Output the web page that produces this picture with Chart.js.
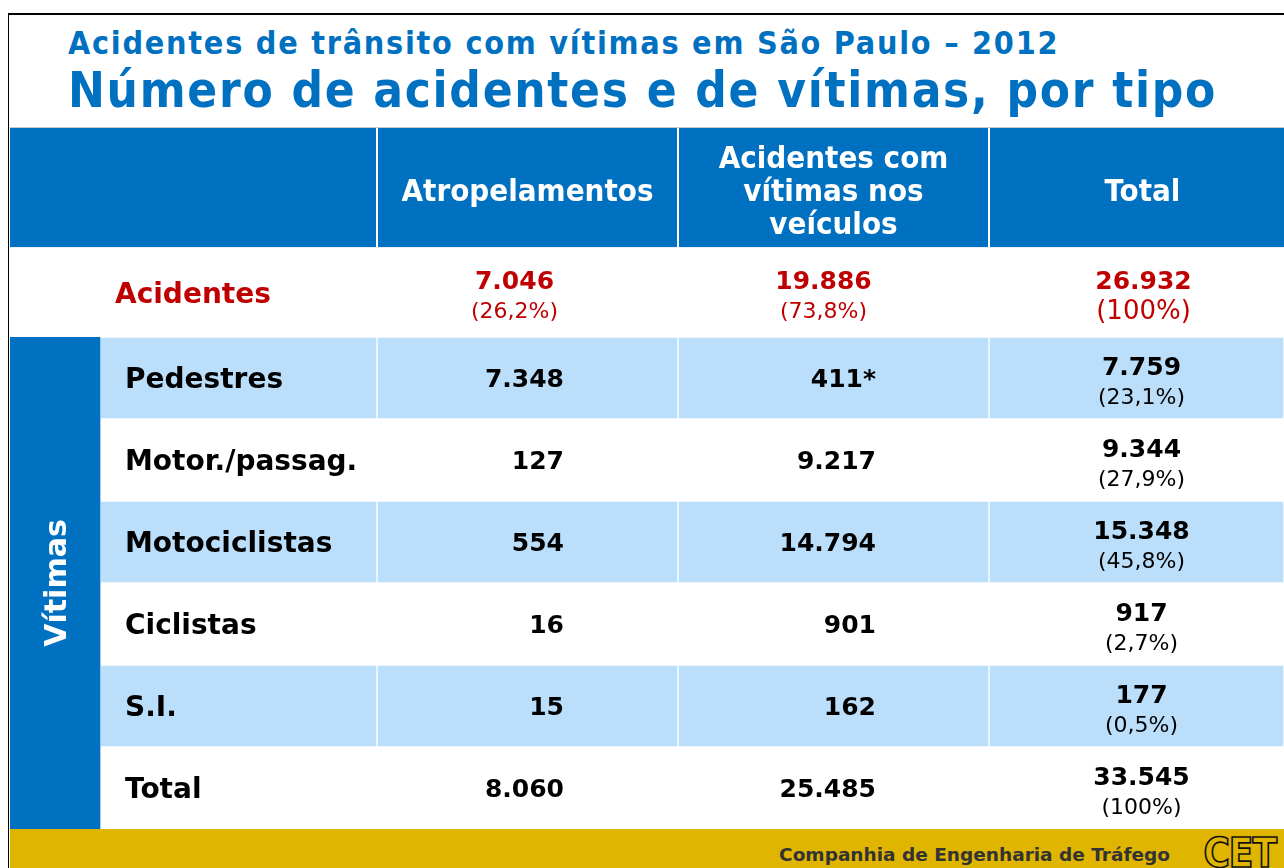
<!DOCTYPE html>
<html>
<head>
<meta charset="utf-8">
<script src="https://cdn.jsdelivr.net/npm/chart.js@4.4.0/dist/chart.umd.min.js"></script>
<style>
  body { margin: 0; width: 1284px; height: 868px; overflow: hidden; background: #fff; position: relative; font-family: "DejaVu Sans", sans-serif; }
  #frame { position: absolute; left: 8px; top: 13px; right: -2px; bottom: -2px; border-left: 1px solid #000; border-top: 2px solid #000; }
  .title { position: absolute; left: 68px; color: #0070C0; font-family: "DejaVu Sans Condensed", "DejaVu Sans", sans-serif; font-weight: bold; line-height: 1; white-space: nowrap; }
  #t1 { top: 27px; font-size: 32px; letter-spacing: 1.75px; }
  #t2 { top: 66px; font-size: 49px; letter-spacing: 1.7px; }
  #rule { position: absolute; left: 10px; right: 0; top: 127px; height: 1px; background: #c8c8c8; }
  #wrap { position: absolute; left: 10px; top: 128px; width: 1274px; height: 701px; }
  #footer { position: absolute; left: 10px; top: 829px; width: 1274px; height: 39px; background: #E0B500; }
  #footer .name { position: absolute; right: 114px; top: 17px; font-size: 18.5px; font-weight: bold; color: #333; line-height: 1; }
  #footer .logo { position: absolute; right: 8px; top: 4px; font-family: "DejaVu Sans Condensed", sans-serif; font-size: 40px; font-weight: bold; line-height: 1; color: transparent; -webkit-text-stroke: 1.6px #111; letter-spacing: -1px; }
</style>
</head>
<body>
<div id="frame"></div>
<div class="title" id="t1">Acidentes de trânsito com vítimas em São Paulo – 2012</div>
<div class="title" id="t2">Número de acidentes e de vítimas, por tipo</div>
<div id="rule"></div>
<div id="wrap"><canvas id="tabela" width="1274" height="701"></canvas></div>
<div id="footer"><span class="name">Companhia de Engenharia de Tráfego</span><span class="logo">CET</span></div>

<script>
// dados
const columnLabels = ['Atropelamentos', ['Acidentes com', 'vítimas nos', 'veículos'], 'Total'];
const accidents = [7046, 19886, 26932];
const accidentShares = [26.2, 73.8, 100];
const rowLabels = ['Pedestres', 'Motor./passag.', 'Motociclistas', 'Ciclistas', 'S.I.', 'Total'];
const atropelamentos = [7348, 127, 554, 16, 15, 8060];
const veiculos = [411, 9217, 14794, 901, 162, 25485];
const veiculosNotes = ['*', '', '', '', '', ''];
const totalVitimas = [7759, 9344, 15348, 917, 177, 33545];
const totalShares = [23.1, 27.9, 45.8, 2.7, 0.5, 100];

// layout
const colWidths = [90, 277, 301, 311, 295];
const headerH = 120;
const accRowH = 89;
const blue = '#0070C0';
const lightBlue = '#BBDFFB';
const red = '#C00000';

const edges = [0];
colWidths.forEach(w => edges.push(edges[edges.length - 1] + w));

function fmt(n) {
  return String(n).replace(/\B(?=(\d{3})+(?!\d))/g, '.');
}
function fmtPct(v) {
  return '(' + (v === 100 ? '100' : v.toFixed(1).replace('.', ',')) + '%)';
}

function text(ctx, str, x, y, size, weight, color, align, family) {
  ctx.font = weight + ' ' + size + 'px ' + (family || '"DejaVu Sans"');
  ctx.fillStyle = color;
  ctx.textAlign = align;
  ctx.textBaseline = 'alphabetic';
  ctx.fillText(str, x, y + size * 0.3645);
}

const tablePlugin = {
  id: 'tablePlugin',
  afterDatasetsDraw(chart) {
    const ctx = chart.ctx;
    const xs = chart.scales.x;
    const ys = chart.scales.y;
    const px = v => xs.getPixelForValue(v);
    ctx.save();

    // cabeçalho
    ctx.fillStyle = blue;
    ctx.fillRect(px(edges[0]), 0, px(edges[5]) - px(edges[0]), headerH);
    ctx.fillStyle = '#fff';
    for (let c = 2; c <= 4; c++) ctx.fillRect(px(edges[c]) - 1, 0, 2, headerH);
    ctx.fillStyle = '#e6f0fa';
    ctx.fillRect(px(edges[0]), headerH - 1, px(edges[5]), 1);
    const hMid = headerH / 2 + 2;
    columnLabels.forEach((lab, i) => {
      const cx = (px(edges[i + 2]) + px(edges[i + 3])) / 2 + (i === 2 ? 6 : 0);
      const lines = Array.isArray(lab) ? lab : [lab];
      lines.forEach((ln, k) => {
        text(ctx, ln, cx, hMid + (k - (lines.length - 1) / 2) * 33, 31, 'bold', '#fff', 'center', '"DejaVu Sans Condensed"');
      });
    });

    // linha de acidentes
    const aMid = headerH + accRowH / 2;
    text(ctx, 'Acidentes', px(edges[0]) + 105, aMid, 28, 'bold', red, 'left');
    const accShift = [-13, -10, 7];
    accidents.forEach((v, i) => {
      const cx = (px(edges[i + 2]) + px(edges[i + 3])) / 2 + accShift[i];
      text(ctx, fmt(v), cx, aMid - 13, 25, 'bold', red, 'center');
      text(ctx, fmtPct(accidentShares[i]), cx, aMid + 17, i === 2 ? 26 : 22, 'normal', red, 'center');
    });

    // vítimas
    rowLabels.forEach((lab, r) => {
      const cy = ys.getPixelForValue(r);
      text(ctx, lab, px(edges[1]) + 25, cy, 28, 'bold', '#000', 'left');
      text(ctx, fmt(atropelamentos[r]), px(edges[3]) - 114, cy, 25, 'bold', '#000', 'right');
      text(ctx, fmt(veiculos[r]) + veiculosNotes[r], px(edges[4]) - 113, cy, 25, 'bold', '#000', 'right');
      const tx = (px(edges[4]) + px(edges[5])) / 2 + 5;
      text(ctx, fmt(totalVitimas[r]), tx, cy - 12, 25, 'bold', '#000', 'center');
      text(ctx, fmtPct(totalShares[r]), tx, cy + 18, 22, 'normal', '#000', 'center');
    });

    // rótulo lateral
    const area = chart.chartArea;
    ctx.translate((px(edges[0]) + px(edges[1])) / 2, (area.top + area.bottom) / 2);
    ctx.rotate(-Math.PI / 2);
    text(ctx, 'Vítimas', 0, 0, 30, 'bold', '#fff', 'center');
    ctx.restore();
  }
};

const stripe = rowLabels.map((_, r) => (r % 2 === 0 ? lightBlue : '#fff'));

const datasets = [{
  label: 'lateral',
  data: rowLabels.map(() => [edges[0], edges[1]]),
  backgroundColor: blue,
  borderWidth: 0
}];
for (let c = 1; c < colWidths.length; c++) {
  datasets.push({
    label: 'coluna ' + c,
    data: rowLabels.map(() => [edges[c], edges[c + 1]]),
    backgroundColor: stripe,
    borderColor: '#fff',
    borderWidth: 1,
    borderSkipped: false
  });
}
datasets.forEach(d => {
  d.grouped = false;
  d.barPercentage = 1;
  d.categoryPercentage = 1;
});

new Chart(document.getElementById('tabela').getContext('2d'), {
  type: 'bar',
  data: { labels: rowLabels, datasets: datasets },
  options: {
    indexAxis: 'y',
    responsive: false,
    animation: false,
    devicePixelRatio: 1,
    layout: { padding: { top: headerH + accRowH, left: 0, right: 0, bottom: 0 } },
    scales: {
      x: { type: 'linear', min: edges[0], max: edges[5], display: false },
      y: { type: 'category', display: false, offset: true }
    },
    plugins: { legend: { display: false }, tooltip: { enabled: false } }
  },
  plugins: [tablePlugin]
});
</script>
</body>
</html>
